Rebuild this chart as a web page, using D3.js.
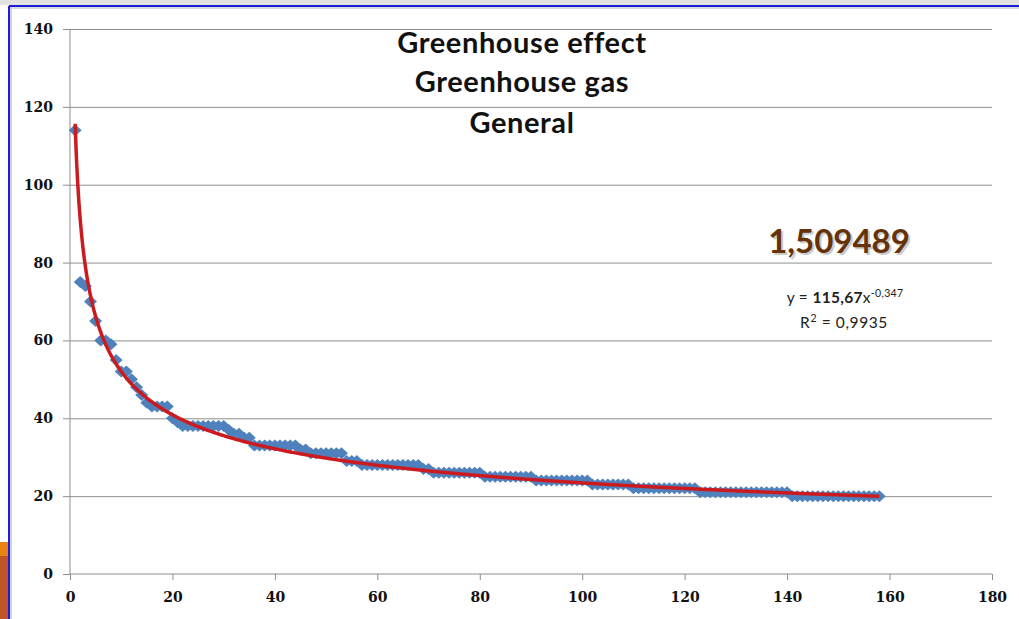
<!DOCTYPE html>
<html>
<head>
<meta charset="utf-8">
<script src="https://cdn.jsdelivr.net/npm/d3@7"></script>
<style>
  body { margin: 0; background: #fff; }
  svg { display: block; }
</style>
</head>
<body>
<div id="chart-area"></div>
<script>
// data: y value for x = 1, 2, 3 ... (one point per integer x)
var yValues = [
  114, 75, 74, 70, 65, 60, 60, 59, 55, 52,
  52, 50, 48, 46, 44, 43, 43, 43, 43, 40,
  39, 38, 38, 38, 38, 38, 38, 38, 38, 38,
  37, 36, 36, 35, 35, 33, 33, 33, 33, 33,
  33, 33, 33, 33, 32, 32, 31, 31, 31, 31,
  31, 31, 31, 29, 29, 29, 28, 28, 28, 28,
  28, 28, 28, 28, 28, 28, 28, 28, 27, 27,
  26, 26, 26, 26, 26, 26, 26, 26, 26, 26,
  25, 25, 25, 25, 25, 25, 25, 25, 25, 25,
  24, 24, 24, 24, 24, 24, 24, 24, 24, 24,
  24, 23, 23, 23, 23, 23, 23, 23, 23, 22,
  22, 22, 22, 22, 22, 22, 22, 22, 22, 22,
  22, 22, 21, 21, 21, 21, 21, 21, 21, 21,
  21, 21, 21, 21, 21, 21, 21, 21, 21, 21,
  20, 20, 20, 20, 20, 20, 20, 20, 20, 20,
  20, 20, 20, 20, 20, 20, 20, 20
];

// power trendline y = a * x^b (from the chart label)
var trendCoef = [115.67, -0.347];
var trendRange = [1, 158];

var xTicks = [0, 20, 40, 60, 80, 100, 120, 140, 160, 180];
var yTicks = [0, 20, 40, 60, 80, 100, 120, 140];

var titleLines = ['Greenhouse effect', 'Greenhouse gas', 'General'];
var bigValue = '1,509489';
var eqLabel = ['y = ', '115,67', 'x', '-0,347'];
var r2Label = ['R', '2', ' = 0,9935'];

var margin = { left: 70, right: 27, top: 29, bottom: 45 };
var width = 1019 - margin.left - margin.right;
var height = 619 - margin.top - margin.bottom;

var svg = d3.select('#chart-area')
  .append('svg')
  .attr('width', 1019)
  .attr('height', 619);

// frame decoration
svg.append('rect').attr('x', 0).attr('y', 0).attr('width', 1019).attr('height', 5).attr('fill', '#e2e2e2');
svg.append('rect').attr('x', 0).attr('y', 542).attr('width', 8).attr('height', 14).attr('fill', '#e8830f');
svg.append('rect').attr('x', 0).attr('y', 556).attr('width', 8).attr('height', 63).attr('fill', '#bf5426');
svg.append('line').attr('x1', 9).attr('x2', 1019).attr('y1', 8).attr('y2', 8)
  .attr('stroke', '#cfcfdc').attr('stroke-width', 1.5);
svg.append('line').attr('x1', 11).attr('x2', 11).attr('y1', 6).attr('y2', 619)
  .attr('stroke', '#c4c4e0').attr('stroke-width', 1.5);
svg.append('line').attr('x1', 9).attr('x2', 1019).attr('y1', 6).attr('y2', 6)
  .attr('stroke', '#1d1dd8').attr('stroke-width', 2);
svg.append('line').attr('x1', 9).attr('x2', 9).attr('y1', 6).attr('y2', 619)
  .attr('stroke', '#1d1dd8').attr('stroke-width', 2);

var g = svg.append('g')
  .attr('transform', 'translate(' + margin.left + ', ' + margin.top + ')');

// Scales
var x = d3.scaleLinear()
  .domain([0, 180])
  .range([0, width]);

var y = d3.scaleLinear()
  .domain([0, 140])
  .range([height, 0]);

// Gridlines
g.append('g')
  .attr('class', 'grid')
  .call(d3.axisLeft(y).tickValues(yTicks.slice(1)).tickSize(-width).tickFormat(''))
  .call(function(s) {
    s.select('.domain').remove();
    s.selectAll('line').attr('stroke', '#8e8e8e');
  });

// Y Axis
g.append('g')
  .attr('class', 'y-axis')
  .call(d3.axisLeft(y).tickValues(yTicks).tickSize(7).tickPadding(10))
  .call(function(s) {
    s.select('.domain').attr('stroke', '#8e8e8e').attr('d', 'M0,0V' + height);
    s.selectAll('line').attr('stroke', '#8e8e8e');
    s.selectAll('text')
      .attr('font-family', 'DejaVu Serif')
      .attr('font-weight', 'bold')
      .attr('font-size', '14px')
      .attr('fill', '#111');
  });

// X Axis
g.append('g')
  .attr('class', 'x-axis')
  .attr('transform', 'translate(0, ' + height + ')')
  .call(d3.axisBottom(x).tickValues(xTicks).tickSize(6).tickPadding(12))
  .call(function(s) {
    s.select('.domain').attr('stroke', '#8e8e8e').attr('d', 'M0,0H' + width);
    s.selectAll('line').attr('stroke', '#8e8e8e');
    s.selectAll('text')
      .attr('font-family', 'DejaVu Serif')
      .attr('font-weight', 'bold')
      .attr('font-size', '14px')
      .attr('fill', '#111');
  });

// Points
var diamond = 'M0,-6L6.5,0L0,6L-6.5,0Z';
g.selectAll('path.pt')
  .data(yValues)
  .enter()
  .append('path')
    .attr('class', 'pt')
    .attr('d', diamond)
    .attr('fill', '#4f81bd')
    .attr('transform', function(d, i) {
      return 'translate(' + x(i + 1) + ',' + y(d) + ')';
    });

// Trendline
var trendX = d3.range(trendRange[0], trendRange[1] + 0.001, 0.25);
var line = d3.line()
  .x(function(d) { return x(d); })
  .y(function(d) { return y(trendCoef[0] * Math.pow(d, trendCoef[1])); })
  .curve(d3.curveMonotoneX);

g.append('path')
  .datum(trendX)
  .attr('d', line)
  .attr('fill', 'none')
  .attr('stroke', '#cc1a1f')
  .attr('stroke-width', 3.5)
  .attr('stroke-linejoin', 'round');

// Title
var titleY = [53, 92, 133];
svg.append('g')
  .selectAll('text')
  .data(titleLines)
  .enter()
  .append('text')
    .attr('x', 522)
    .attr('y', function(d, i) { return titleY[i]; })
    .attr('text-anchor', 'middle')
    .attr('font-family', 'Lato')
    .attr('font-weight', 'bold')
    .attr('font-size', '29px')
    .attr('letter-spacing', '0.6px')
    .attr('fill', '#111')
    .text(function(d) { return d; });

// Big value with shadow
svg.append('text')
  .attr('x', 841).attr('y', 255)
  .attr('text-anchor', 'middle')
  .attr('font-family', 'Lato').attr('font-weight', 'bold').attr('font-size', '33px')
  .attr('fill', '#9a9a9a').attr('opacity', 0.5)
  .text(bigValue);
svg.append('text')
  .attr('x', 839).attr('y', 253)
  .attr('text-anchor', 'middle')
  .attr('font-family', 'Lato').attr('font-weight', 'bold').attr('font-size', '33px')
  .attr('fill', '#663208')
  .text(bigValue);

// Equation
var eq = svg.append('text')
  .attr('x', 845).attr('y', 303)
  .attr('text-anchor', 'middle')
  .attr('font-family', 'Lato').attr('font-size', '15.5px')
  .attr('letter-spacing', '0.3px')
  .attr('fill', '#222');
eq.append('tspan').text(eqLabel[0]);
eq.append('tspan').attr('font-weight', 'bold').text(eqLabel[1]);
eq.append('tspan').text(eqLabel[2]);
eq.append('tspan').attr('dy', -6).attr('font-size', '10.5px').text(eqLabel[3]);

var r2 = svg.append('text')
  .attr('x', 844).attr('y', 328)
  .attr('text-anchor', 'middle')
  .attr('font-family', 'Lato').attr('font-size', '15.5px')
  .attr('letter-spacing', '0.6px')
  .attr('fill', '#222');
r2.append('tspan').text(r2Label[0]);
r2.append('tspan').attr('dy', -6).attr('font-size', '10.5px').text(r2Label[1]);
r2.append('tspan').attr('dy', 6).text(r2Label[2]);
</script>
</body>
</html>
